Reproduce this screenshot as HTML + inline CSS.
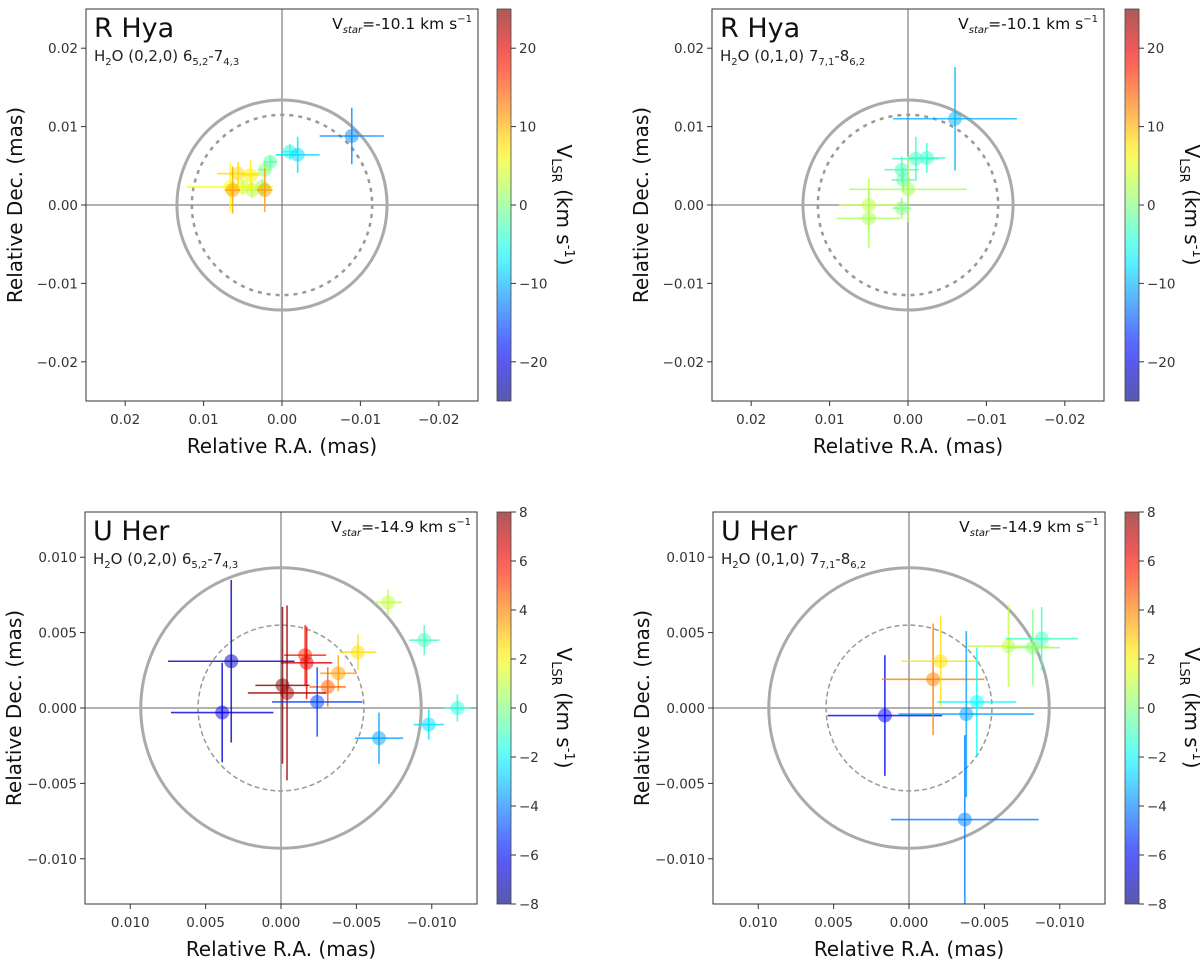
<!DOCTYPE html>
<html><head><meta charset="utf-8">
<style>
html,body{margin:0;padding:0;background:#fff;}
svg{display:block;font-family:"DejaVu Sans","Liberation Sans",sans-serif;}
</style></head>
<body>
<svg id="fig" width="1200" height="963" viewBox="0 0 1200 963" xmlns="http://www.w3.org/2000/svg"></svg>
<script>
// ---- data: [ra, dec, raErr, decErr, vlsr] ----
const rhya1Ra   = [-0.0089,-0.0010,-0.0020,0.0015,0.0022,0.0025,0.0038,0.0050,0.0066,0.0056,0.0040,0.0063,0.0022];
const rhya1Dec  = [0.0088,0.0068,0.0064,0.0055,0.0045,0.0023,0.0019,0.0023,0.0023,0.0040,0.0038,0.0019,0.0019];
const rhya1ErrX = [0.0041,0.0010,0.0028,0.0008,0.0008,0.0010,0.0010,0.0012,0.0055,0.0027,0.0012,0.0010,0.0010];
const rhya1ErrY = [0.0036,0.0010,0.0023,0.0008,0.0008,0.0010,0.0010,0.0010,0.0031,0.0015,0.0020,0.0030,0.0028];
const rhya1V    = [-12,-5,-8,-2,0,1,3,4,6,8,7,11,11];

const rhya2Ra   = [-0.0060,-0.0024,-0.0010,0.0008,0.0006,0.0000,0.0008,0.0050,0.0050];
const rhya2Dec  = [0.0110,0.0060,0.0059,0.0045,0.0032,0.0020,-0.0004,0.0000,-0.0017];
const rhya2ErrX = [0.0079,0.0024,0.0030,0.0022,0.0015,0.0075,0.0012,0.0038,0.0041];
const rhya2ErrY = [0.0066,0.0019,0.0028,0.0017,0.0015,0.0042,0.0013,0.0034,0.0038];
const rhya2V    = [-10,-4,-3.5,-3,-2,2,0,3,2];

const uher1Ra   = [-0.0071,-0.0095,-0.0117,-0.0098,-0.0065,-0.0051,-0.0038,-0.0031,-0.0016,-0.0017,-0.0001,-0.0004,-0.0024,0.0033,0.0039];
const uher1Dec  = [0.0070,0.0045,0.0000,-0.0011,-0.0020,0.0037,0.0023,0.0014,0.0035,0.0030,0.0015,0.0010,0.0004,0.0031,-0.0003];
const uher1ErrX = [0.0009,0.0010,0.0009,0.0010,0.0016,0.0012,0.0012,0.0012,0.0014,0.0017,0.0018,0.0026,0.0030,0.0042,0.0034];
const uher1ErrY = [0.0009,0.0010,0.0009,0.0010,0.0017,0.0012,0.0012,0.0013,0.0020,0.0024,0.0052,0.0058,0.0023,0.0054,0.0033];
const uher1V    = [1,-1,-1.5,-2.5,-3.5,2.5,3.5,4.5,5.5,6.5,8,7.5,-5,-7,-6.5];

const uher2Ra   = [0.0016,-0.0016,-0.0021,-0.0045,-0.0038,-0.0037,-0.0066,-0.0082,-0.0088];
const uher2Dec  = [-0.0005,0.0019,0.0031,0.0004,-0.0004,-0.0074,0.0041,0.0040,0.0046];
const uher2ErrX = [0.0038,0.0034,0.0026,0.0026,0.0045,0.0049,0.0027,0.0018,0.0024];
const uher2ErrY = [0.0040,0.0037,0.0030,0.0036,0.0055,0.0056,0.0027,0.0025,0.0021];
const uher2V    = [-6,4,2.5,-2,-3.5,-4,1,0,-1];

const topTicks = [0.02,0.01,0.00,-0.01,-0.02];
const topTickLabels = ["0.02","0.01","0.00","\u22120.01","\u22120.02"];
const botTicks = [0.010,0.005,0.000,-0.005,-0.010];
const botTickLabels = ["0.010","0.005","0.000","\u22120.005","\u22120.010"];
const topCbTicks = [20,10,0,-10,-20];
const botCbTicks = [8,6,4,2,0,-2,-4,-6,-8];

const NS="http://www.w3.org/2000/svg";
const svg=document.getElementById('fig');
function mk(tag,attrs,parent){const e=document.createElementNS(NS,tag);for(const k in attrs)e.setAttribute(k,attrs[k]);(parent||svg).appendChild(e);return e;}
function jet(t){t=Math.max(0,Math.min(1,t));const c=x=>Math.round(255*Math.max(0,Math.min(1,1.5-Math.abs(4*t-x))));return `rgb(${c(3)},${c(2)},${c(1)})`;}

function panel(o){
  const g=mk('g',{});
  
  
  const L=o.cx-o.half,R=o.cx+o.half,T=o.cy-o.half,B=o.cy+o.half;
  const sx=v=>o.cx-v/o.range*o.half, sy=v=>o.cy-v/o.range*o.half;
  const cid='clip'+o.id;
  const cp=mk('clipPath',{id:cid},g);mk('rect',{x:L,y:T,width:R-L,height:B-T},cp);
  const inner=mk('g',{'clip-path':`url(#${cid})`},g);
  const zx=mk('line',{x1:sx(0),x2:sx(0),y1:T,y2:B,stroke:'#666','stroke-width':1},inner);
  
  const zy=mk('line',{x1:L,x2:R,y1:sy(0),y2:sy(0),stroke:'#666','stroke-width':1},inner);
  
  const c1=mk('circle',{cx:sx(0),cy:sy(0),r:o.rSolid/o.range*o.half,fill:'none',stroke:'#aaa','stroke-width':3},inner);
  
  const c2=mk('circle',{cx:sx(0),cy:sy(0),r:o.rDash/o.range*o.half,fill:'none',stroke:'#999','stroke-width':o.dashW,'stroke-dasharray':o.dash},inner);
  
  for(let i=0;i<o.ra.length;i++){
    const col=jet((o.v[i]-o.vmin)/(o.vmax-o.vmin));
    const x=sx(o.ra[i]),y=sy(o.dec[i]);
    const pg=mk('g',{},inner);
    
    
    mk('line',{x1:sx(o.ra[i]-o.ex[i]),x2:sx(o.ra[i]+o.ex[i]),y1:y,y2:y,stroke:col,'stroke-width':1.6,'stroke-opacity':0.8},pg);
    mk('line',{x1:x,x2:x,y1:sy(o.dec[i]-o.ey[i]),y2:sy(o.dec[i]+o.ey[i]),stroke:col,'stroke-width':1.6,'stroke-opacity':0.8},pg);
    mk('circle',{cx:x,cy:y,r:7,fill:col,'fill-opacity':0.5},pg);
  }
  const fr=mk('rect',{x:L,y:T,width:R-L,height:B-T,fill:'none',stroke:'#333','stroke-width':1},g);
  
  o.ticks.forEach((t,i)=>{
    mk('line',{x1:sx(t),x2:sx(t),y1:B,y2:B+5,stroke:'#333'},g);
    const tx=mk('text',{x:sx(t),y:B+23,'font-size':13.5,'text-anchor':'middle',fill:'#333'},g);
    tx.textContent=o.tickLabels[i];
    
    mk('line',{x1:L-5,x2:L,y1:sy(t),y2:sy(t),stroke:'#333'},g);
    const ty=mk('text',{x:L-8,y:sy(t)+5,'font-size':13.5,'text-anchor':'end',fill:'#333'},g);
    ty.textContent=o.tickLabels[i];
    
  });
  const t1=mk('text',{x:L+8,y:T+28,'font-size':27,fill:'#111'},g);t1.textContent=o.star;
  
  const t2=mk('text',{x:L+8,y:T+52,'font-size':15,fill:'#222'},g);
  t2.innerHTML=`H<tspan font-size="10" dy="4">2</tspan><tspan dy="-4">O ${o.vib} ${o.up}</tspan><tspan font-size="10" dy="4">${o.upS}</tspan><tspan dy="-4">-${o.lo}</tspan><tspan font-size="10" dy="4">${o.loS}</tspan>`;
  
  const t3=mk('text',{x:R-6,y:T+20,'font-size':15.5,'text-anchor':'end',fill:'#111'},g);
  t3.innerHTML=`V<tspan font-size="10" dy="4" font-style="italic">star</tspan><tspan dy="-4">=${o.vstar} km s</tspan><tspan font-size="10" dy="-7">\u22121</tspan>`;
  
  const xl=mk('text',{x:o.cx,y:B+52,'font-size':20,'text-anchor':'middle',fill:'#111'},g);xl.textContent='Relative R.A. (mas)';
  
  const yl=mk('text',{x:0,y:0,'font-size':20,'text-anchor':'middle',fill:'#111',transform:`translate(${L-64},${o.cy}) rotate(-90)`},g);yl.textContent='Relative Dec. (mas)';
  
  const cb=mk('g',{},g);
  
  const gid='grad'+o.id;
  const lg=mk('linearGradient',{id:gid,x1:0,y1:1,x2:0,y2:0},cb);
  for(let k=0;k<=20;k++)mk('stop',{offset:k/20,'stop-color':jet(k/20),'stop-opacity':0.65},lg);
  mk('rect',{x:o.cbx,y:T,width:14,height:B-T,fill:`url(#${gid})`,stroke:'#444','stroke-width':0.8},cb);
  const cbs=v=>B-(v-o.vmin)/(o.vmax-o.vmin)*(B-T);
  o.cbTicks.forEach(v=>{
    mk('line',{x1:o.cbx+14,x2:o.cbx+19,y1:cbs(v),y2:cbs(v),stroke:'#333'},cb);
    const tt=mk('text',{x:o.cbx+22,y:cbs(v)+5,'font-size':13.5,fill:'#333'},cb);
    tt.textContent=String(v).replace('-','\u2212');
  });
  const vl=mk('text',{x:0,y:0,'font-size':20,'text-anchor':'middle',fill:'#111',transform:`translate(${o.cbx+60},${o.cy}) rotate(90)`},cb);
  vl.innerHTML=`V<tspan font-size="13" dy="5">LSR</tspan><tspan dy="-5"> (km s</tspan><tspan font-size="13" dy="-8">-1</tspan><tspan dy="8">)</tspan>`;
  
}

const topBase={cy:205,half:196,range:0.025,rSolid:0.0134,rDash:0.0115,dash:'4 5',dashW:2.5,vmin:-25,vmax:25,ticks:topTicks,tickLabels:topTickLabels,cbTicks:topCbTicks,star:'R Hya',vstar:'-10.1'};
const botBase={cy:708,half:196,range:0.013,rSolid:0.0093,rDash:0.0055,dash:'5 3',dashW:1.5,vmin:-8,vmax:8,ticks:botTicks,tickLabels:botTickLabels,cbTicks:botCbTicks,star:'U Her',vstar:'-14.9'};
const v1={vib:'(0,2,0)',up:'6',upS:'5,2',lo:'7',loS:'4,3'};
const v2={vib:'(0,1,0)',up:'7',upS:'7,1',lo:'8',loS:'6,2'};

panel(Object.assign({},topBase,v1,{id:1,name:'panel-rhya-020',cx:282,cbx:497,ra:rhya1Ra,dec:rhya1Dec,ex:rhya1ErrX,ey:rhya1ErrY,v:rhya1V}));
panel(Object.assign({},topBase,v2,{id:2,name:'panel-rhya-010',cx:908,cbx:1125,ra:rhya2Ra,dec:rhya2Dec,ex:rhya2ErrX,ey:rhya2ErrY,v:rhya2V}));
panel(Object.assign({},botBase,v1,{id:3,name:'panel-uher-020',cx:281,cbx:497,ra:uher1Ra,dec:uher1Dec,ex:uher1ErrX,ey:uher1ErrY,v:uher1V}));
panel(Object.assign({},botBase,v2,{id:4,name:'panel-uher-010',cx:909,cbx:1125,ra:uher2Ra,dec:uher2Dec,ex:uher2ErrX,ey:uher2ErrY,v:uher2V}));
</script>
</body></html>
